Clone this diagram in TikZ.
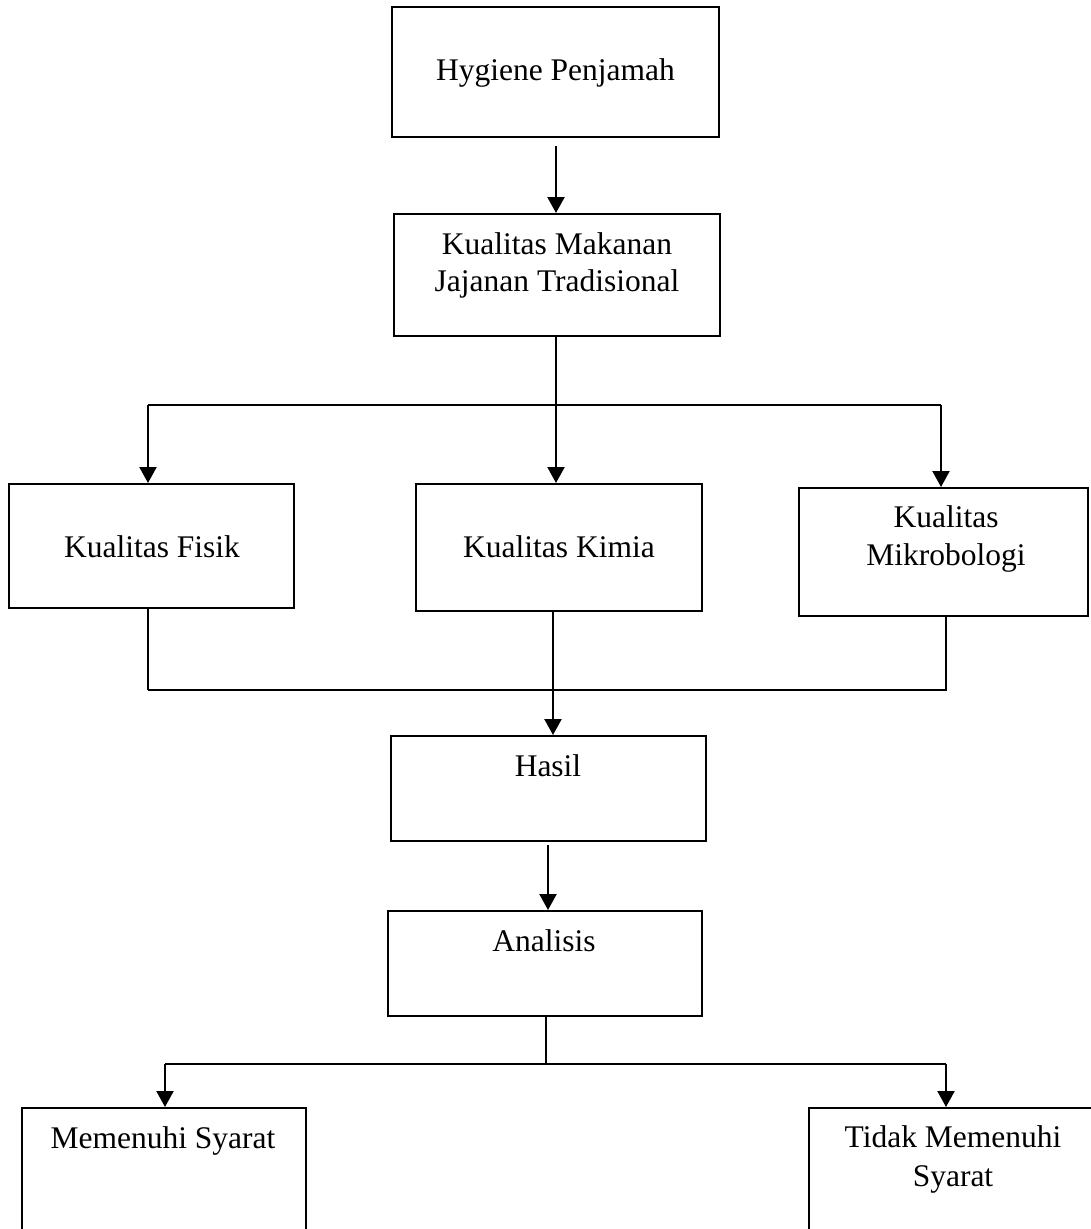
\documentclass[tikz,border=0pt]{standalone}
\usepackage{fontspec}
\setmainfont{Liberation Serif}
\usetikzlibrary{arrows.meta}
\begin{document}
\begin{tikzpicture}[x=1pt,y=-1pt,
  box/.style={draw=black, line width=2pt, rectangle, inner sep=0pt, fill=none},
  txt/.style={anchor=base, inner sep=0pt, font=\fontsize{31.5}{37}\selectfont},
  conn/.style={draw=black, line width=2.2pt},
  thin/.style={draw=black, line width=1.3pt},
  arr/.style={conn, -{Triangle[width=17pt,length=16pt]}}]
\clip (0,0) rectangle (1091,1229);
\fill[white] (0,0) rectangle (1091,1229);
% boxes
\node[box, minimum width=327pt, minimum height=130pt] (hyg) at (555.5,72) {};
\node[box, minimum width=326pt, minimum height=122pt] (kual) at (557,275) {};
\node[box, minimum width=285pt, minimum height=124pt] (fis) at (151.5,546) {};
\node[box, minimum width=286pt, minimum height=127pt] (kim) at (559,547.5) {};
\node[box, minimum width=289pt, minimum height=128pt] (mik) at (943.5,552) {};
\node[box, minimum width=315pt, minimum height=105pt] (has) at (548.5,788.5) {};
\node[box, minimum width=314pt, minimum height=105pt] (ana) at (545,963.5) {};
\node[box, minimum width=284pt, minimum height=132pt] (mem) at (164,1174) {};
\node[box, minimum width=288pt, minimum height=132pt] (tid) at (953,1174) {};
% texts
\node[txt] (hygT) at (555.5,80) {Hygiene Penjamah};
\node[txt] (kualT1) at (557,254) {Kualitas Makanan};
\node[txt] (kualT2) at (557,291) {Jajanan Tradisional};
\node[txt] (fisT) at (152,557) {Kualitas Fisik};
\node[txt] (kimT) at (559,557) {Kualitas Kimia};
\node[txt] (mikT1) at (946,527) {Kualitas};
\node[txt] (mikT2) at (946,565) {Mikrobologi};
\node[txt] (hasT) at (548,776) {Hasil};
\node[txt] (anaT) at (544,951) {Analisis};
\node[txt] (memT) at (163,1148) {Memenuhi Syarat};
\node[txt] (tidT1) at (953,1147) {Tidak Memenuhi};
\node[txt] (tidT2) at (953,1186) {Syarat};
% bus coordinates
\coordinate (a1) at (556,146);
\coordinate (b1L) at (148,405);
\coordinate (b1M) at (556,405);
\coordinate (b1R) at (941,405);
\coordinate (b2L) at (148,690);
\coordinate (b2M) at (553,690);
\coordinate (b2R) at (946,690);
\coordinate (c3) at (548,845);
\coordinate (b3L) at (165,1064);
\coordinate (b3M) at (546,1064);
\coordinate (b3R) at (946,1064);
% connectors
\draw[arr] (a1) -- (kual.north -| a1);
\draw[arr] (kual.south -| b1M) -- (kim.north -| b1M);
\draw[conn] (b1L) -- (b1R);
\draw[arr] (b1L) -- (b1L |- fis.north);
\draw[arr] (b1R) -- (b1R |- mik.north);
\draw[thin] (fis.south -| b2L) -- (b2L);
\draw[conn] (b2L) -- (b2R) -- (mik.south -| b2R);
\draw[arr] (kim.south -| b2M) -- (has.north -| b2M);
\draw[arr] (c3) -- (ana.north -| c3);
\draw[thin] (ana.south -| b3M) -- (b3M);
\draw[conn] (b3L) -- (b3R);
\draw[arr] (b3L) -- (b3L |- mem.north);
\draw[arr] (b3R) -- (b3R |- tid.north);
\end{tikzpicture}
\end{document}
